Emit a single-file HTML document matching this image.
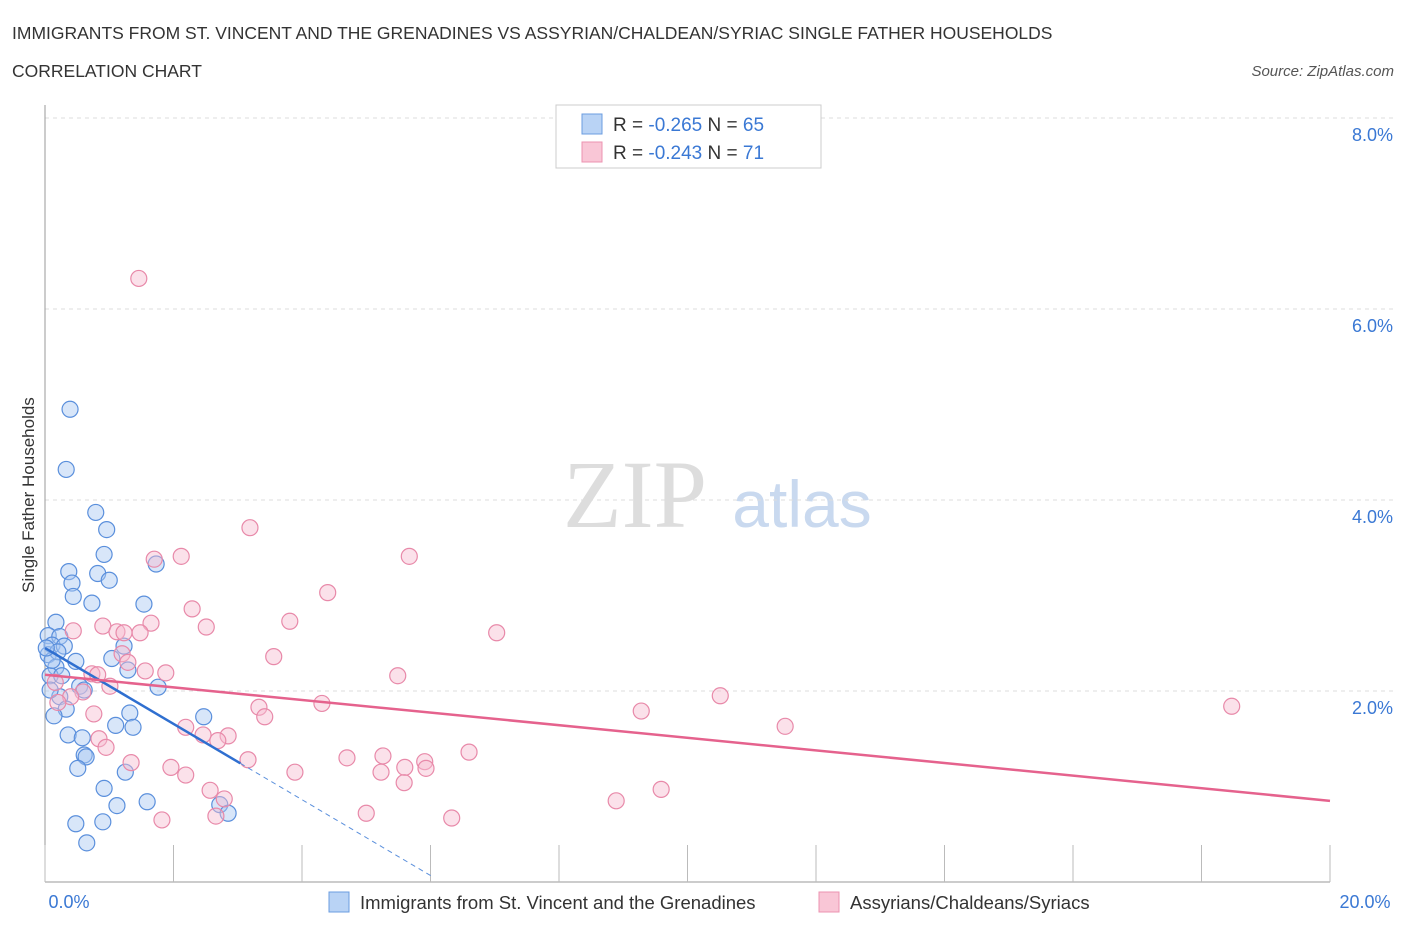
<!DOCTYPE html>
<html><head><meta charset="utf-8"><style>
body{margin:0;background:#fff;width:1406px;height:930px;overflow:hidden;font-family:"Liberation Sans",sans-serif}
svg{position:absolute;left:0;top:0}
</style></head><body>
<svg id="c" width="1406" height="930">
<text x="12" y="39" font-size="17.5" fill="#333">IMMIGRANTS FROM ST. VINCENT AND THE GRENADINES VS ASSYRIAN/CHALDEAN/SYRIAC SINGLE FATHER HOUSEHOLDS</text>
<text x="12" y="77" font-size="17.5" fill="#333">CORRELATION CHART</text>
<text x="1394" y="76" font-size="15" fill="#555" font-style="italic" text-anchor="end">Source: ZipAtlas.com</text>
<text x="635" y="527" font-size="96" fill="#ddd" font-family="Liberation Serif,serif" text-anchor="middle">ZIP</text>
<text x="802" y="527" font-size="66" fill="#c9d9ef" text-anchor="middle">atlas</text>
<text transform="translate(34,495) rotate(-90)" font-size="17" fill="#333" text-anchor="middle">Single Father Households</text>
<g id="grid"></g><g id="marks"></g>
<g>
<rect x="556" y="105" width="265" height="63" fill="#fff" stroke="#ccc"/>
<rect x="582" y="114" width="20" height="20" fill="#b9d3f5" stroke="#6b9de0"/>
<rect x="582" y="142" width="20" height="20" fill="#f9c6d6" stroke="#ec93b0"/>
<text x="613" y="131" font-size="19" fill="#333">R = <tspan fill="#3a78d4">-0.265</tspan>   N = <tspan fill="#3a78d4">65</tspan></text>
<text x="613" y="159" font-size="19" fill="#333">R = <tspan fill="#3a78d4">-0.243</tspan>   N =  <tspan fill="#3a78d4">71</tspan></text>
</g>
<g>
<rect x="329" y="892" width="20" height="20" fill="#b9d3f5" stroke="#6b9de0"/>
<text x="360" y="909" font-size="18.5" fill="#333">Immigrants from St. Vincent and the Grenadines</text>
<rect x="819" y="892" width="20" height="20" fill="#f9c6d6" stroke="#ec93b0"/>
<text x="850" y="909" font-size="18.5" fill="#333">Assyrians/Chaldeans/Syriacs</text>
</g>
</svg>
<script>
const xTicks=[0,2,4,6,8,10,12,14,16,18,20];
const yTicks=[2,4,6,8];
const blueX=[.39,.33,.79,.96,.92,.37,.42,.82,1.0,1.73,.44,.73,1.54,.17,.05,.23,.11,.30,1.23,.05,.2,.48,1.04,.17,1.29,.08,.26,.54,.61,1.76,.23,.33,.14,2.47,1.1,1.32,1.37,.36,.58,.61,.64,.51,1.25,.92,1.12,1.59,2.72,2.85,.48,.9,.65,.11,.02,.08];
const blueY=[4.95,4.32,3.87,3.69,3.43,3.25,3.13,3.23,3.16,3.33,2.99,2.92,2.91,2.72,2.58,2.57,2.48,2.47,2.47,2.38,2.41,2.31,2.34,2.25,2.22,2.16,2.16,2.05,2.01,2.04,1.94,1.81,1.74,1.73,1.64,1.77,1.62,1.54,1.51,1.33,1.31,1.19,1.15,.98,.80,.84,.81,.72,.61,.63,.41,2.32,2.45,2.01];
const pinkX=[1.46,3.19,5.67,1.70,2.12,4.40,2.29,3.81,1.65,2.51,7.03,.90,.44,1.12,1.23,1.48,1.20,3.56,1.29,1.56,1.88,.73,.82,5.49,.16,1.01,.59,.40,10.51,.2,4.31,18.47,3.33,9.28,3.42,.76,11.52,2.19,2.46,2.85,.84,2.69,.95,6.6,5.26,4.70,3.16,5.91,5.60,5.93,1.34,1.96,5.23,3.89,2.19,5.59,2.57,9.59,2.79,8.89,5.0,1.82,2.66,6.33];
const pinkY=[6.32,3.71,3.41,3.38,3.41,3.03,2.86,2.73,2.71,2.67,2.61,2.68,2.63,2.62,2.61,2.61,2.39,2.36,2.30,2.21,2.19,2.18,2.17,2.16,2.09,2.05,1.99,1.94,1.95,1.88,1.87,1.84,1.83,1.79,1.73,1.76,1.63,1.62,1.54,1.53,1.50,1.48,1.41,1.36,1.32,1.30,1.28,1.26,1.20,1.19,1.25,1.20,1.15,1.15,1.12,1.04,.96,.97,.87,.85,.72,.65,.69,.67];
const blueTrend=[2.45,-0.397];
const pinkTrend=[2.17,-0.066];
const NS='http://www.w3.org/2000/svg';
const X=v=>45+v*64.25, Y=v=>882-v*95.5;
function mk(t,a,p){const e=document.createElementNS(NS,t);for(const k in a)e.setAttribute(k,a[k]);p.appendChild(e);return e;}
const g=document.getElementById('grid'),m=document.getElementById('marks');
for(const t of yTicks){const l=mk('line',{x1:45,x2:1394,y1:Y(t),y2:Y(t),stroke:'#ddd','stroke-dasharray':'4,4'},g);


const tx=mk('text',{x:1393,y:Y(t)+23,'font-size':18,fill:'#3a78d4','text-anchor':'end'},g);tx.textContent=t.toFixed(1)+'%';

}
const gl=mk('line',{x1:45,x2:1394,y1:Y(8),y2:Y(8),stroke:'#ddd','stroke-dasharray':'4,4'},g);
mk('line',{x1:45,x2:45,y1:105,y2:882,stroke:'#999'},g);
mk('line',{x1:45,x2:1330,y1:882,y2:882,stroke:'#999'},g);
for(const t of xTicks){const l=mk('line',{x1:X(t),x2:X(t),y1:845,y2:882,stroke:'#bbb'},g);

}
[[0,'0.0%',69],[20,'20.0%',1365]].forEach(([v,s,x])=>{const tx=mk('text',{x:x,y:908,'font-size':18,fill:'#3a78d4','text-anchor':'middle'},g);tx.textContent=s;

});
function pts(xs,ys,f,s,n){for(let i=0;i<xs.length;i++){const c=mk('circle',{cx:X(xs[i]),cy:Y(ys[i]),r:8,fill:f,'fill-opacity':.45,stroke:s,'stroke-width':1.2},m);

}}
pts(blueX,blueY,'#a9c8f2','#5a8fdc','blue-point');
pts(pinkX,pinkY,'#f7bcd0','#e889a9','pink-point');
let l=mk('line',{x1:X(0),y1:Y(blueTrend[0]),x2:X(3.04),y2:Y(blueTrend[0]+blueTrend[1]*3.04),stroke:'#2f6fd0','stroke-width':2.5},m);


l=mk('line',{x1:X(3.04),y1:Y(blueTrend[0]+blueTrend[1]*3.04),x2:X(6.05),y2:Y(blueTrend[0]+blueTrend[1]*6.05),stroke:'#5a8fdc','stroke-width':1,'stroke-dasharray':'5,4'},m);


l=mk('line',{x1:X(0),y1:Y(pinkTrend[0]),x2:X(20),y2:Y(pinkTrend[0]+pinkTrend[1]*20),stroke:'#e5628d','stroke-width':2.5},m);


</script>
</body></html>
